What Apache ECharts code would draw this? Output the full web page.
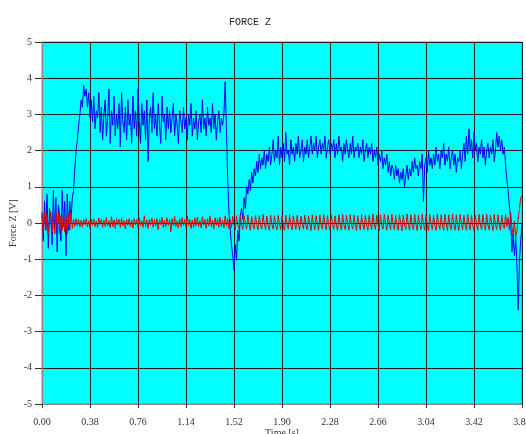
<!DOCTYPE html>
<html>
<head>
<meta charset="utf-8">
<script src="https://cdn.jsdelivr.net/npm/echarts@6/dist/echarts.min.js"></script>
<style>
  html, body { margin: 0; padding: 0; background: #fff; }
  #chart { width: 526px; height: 434px; }
</style>
</head>
<body>
<div id="chart"></div>
<script>
// sampling step of the recorded signals [s]
const dt = 0.01;

const xTicks = ['0.00', '0.38', '0.76', '1.14', '1.52', '1.90', '2.28', '2.66', '3.04', '3.42', '3.80'];

// blue trace, one row = 0.1 s
const forceBlue = [
  0.3, -0.5, 0.6, -0.2, 0.8, -0.7, 0.4, 0.1, -0.6, 0.9,
  -0.3, 0.7, -0.8, 0.5, 0.2, -0.5, 0.9, -0.1, 0.6, -0.9,
  0.8, -0.2, 0.6, 0.1, 0.7, 0.9, 1.5, 2.0, 2.3, 2.7,
  3.0, 3.4, 3.2, 3.8, 3.5, 3.7, 3.2, 3.6, 2.9, 3.4,
  2.8, 3.5, 2.6, 3.1, 2.9, 3.6, 2.5, 3.2, 2.3, 3.0,
  3.4, 2.4, 2.9, 3.7, 2.2, 3.1, 2.7, 3.5, 2.4, 3.0,
  2.6, 3.3, 2.1, 3.6, 2.8, 2.5, 3.2, 2.3, 3.4, 2.7,
  3.0, 2.2, 3.5, 2.6, 3.1, 2.4, 3.7, 2.8, 2.2, 3.3,
  2.7, 3.1, 2.3, 3.4, 1.7, 2.9, 3.2, 2.5, 3.6, 2.6,
  3.0, 2.4, 3.3, 2.7, 2.2, 3.5, 2.8, 3.0, 2.3, 3.2,
  2.6, 3.1, 2.5, 2.9, 3.3, 2.4, 3.0, 2.7, 2.2, 3.1,
  2.8, 2.5, 3.2, 2.6, 2.9, 2.3, 3.0, 2.7, 3.3, 2.4,
  2.9, 2.6, 3.1, 2.3, 2.8, 3.0, 2.5, 3.4, 2.6, 2.9,
  2.4, 3.2, 2.7, 2.9, 2.5, 3.3, 2.6, 3.0, 2.3, 2.8,
  3.1, 2.5, 2.9, 2.7, 3.0, 3.9, 2.6, 1.2, 0.3, -0.2,
  -0.6, -0.9, -1.3, -0.6, -1.0, -0.2, -0.5, 0.2, 0.4, 0.1,
  0.7, 0.4, 1.0, 0.8, 1.2, 0.9, 1.4, 1.1, 1.5, 1.3,
  1.7, 1.4, 1.9, 1.5, 1.8, 1.6, 2.0, 1.5, 1.9, 1.7,
  2.1, 1.6, 1.9, 2.3, 1.7, 2.0, 1.8, 2.4, 1.6, 2.1,
  1.8, 2.2, 1.7, 2.5, 1.9, 2.0, 1.6, 2.3, 1.9, 2.1,
  1.7, 2.2, 1.9, 2.4, 1.8, 2.0, 2.3, 1.7, 2.1, 1.9,
  2.3, 1.8, 2.1, 2.4, 1.9, 2.2, 2.0, 2.4, 1.8, 2.1,
  2.3, 1.9, 2.2, 2.0, 2.4, 1.8, 2.1, 2.3, 1.9, 2.2,
  2.0, 2.3, 1.8, 2.2, 1.9, 2.4, 2.0, 2.1, 1.7, 2.2,
  1.9, 2.3, 2.0, 1.8, 2.2, 1.9, 2.4, 1.8, 2.1, 2.0,
  2.2, 1.8, 2.1, 1.9, 2.3, 1.7, 2.0, 2.2, 1.8, 2.1,
  1.9, 2.2, 1.7, 2.0, 1.8, 2.1, 1.6, 1.9, 1.7, 2.0,
  1.5, 1.8, 1.6, 1.9, 1.4, 1.7, 1.3, 1.6, 1.5, 1.2,
  1.6, 1.3, 1.5, 1.1, 1.4, 1.2, 1.5, 1.0, 1.3, 1.6,
  1.2, 1.5, 1.3, 1.7, 1.4, 1.8, 1.5, 1.6, 1.3, 1.7,
  1.5, 1.9, 0.6, 1.6, 1.8, 1.4, 2.0, 1.6, 1.8, 1.5,
  1.9, 1.6, 2.1, 1.7, 1.9, 1.5, 2.0, 1.8, 2.2, 1.6,
  1.9, 1.7, 2.1, 1.5, 1.8, 2.0, 1.6, 1.9, 1.4, 1.8,
  1.7, 2.0, 1.5, 1.9, 2.2, 1.7, 2.4, 1.9, 2.6, 2.0,
  2.3, 1.8, 2.5, 2.0, 2.2, 1.7, 2.1, 1.9, 2.3, 1.8,
  2.1, 1.6, 2.0, 2.2, 1.8, 2.1, 1.9, 2.3, 1.7, 2.0,
  2.5, 2.1, 2.4, 2.0, 2.3, 1.9, 2.1, 1.6, 1.2, 0.9,
  0.5, 0.1, -0.8, -0.3, -0.9, -0.4, -1.2, -2.4, -1.0, -0.5,
  0.0
];

// red trace, one row = 0.1 s
const forceRed = [
  0.2, -0.3, 0.3, -0.2, 0.25, -0.3, 0.1, 0.3, -0.25, 0.2,
  -0.3, 0.3, -0.1, 0.25, -0.3, 0.2, -0.2, 0.3, -0.25, 0.15,
  -0.3, 0.25, -0.2, 0.3, -0.15, 0.1, -0.1, 0.12, -0.08, 0.1,
  -0.1, 0.08, -0.12, 0.1, -0.05, 0.12, -0.1, 0.06, -0.14, 0.1,
  -0.06, 0.12, -0.1, 0.05, -0.12, 0.14, -0.04, 0.1, -0.12, 0.08,
  -0.1, 0.15, -0.08, 0.06, -0.13, 0.18, -0.1, 0.08, -0.15, 0.12,
  -0.05, 0.1, -0.12, 0.14, -0.08, 0.06, -0.16, 0.1, -0.06, 0.12,
  -0.1, 0.08, -0.14, 0.12, -0.05, 0.1, -0.12, 0.15, -0.08, 0.06,
  -0.12, 0.2, -0.1, 0.08, -0.15, 0.1, -0.06, 0.14, -0.12, 0.1,
  -0.08, 0.12, -0.18, 0.1, -0.05, 0.16, -0.12, 0.08, -0.1, 0.14,
  -0.06, 0.1, -0.25, 0.12, -0.08, 0.18, -0.1, 0.06, -0.14, 0.12,
  -0.1, 0.15, -0.06, 0.1, -0.12, 0.2, -0.08, 0.1, -0.15, 0.08,
  -0.12, 0.14, -0.08, 0.16, -0.1, 0.06, -0.14, 0.18, -0.06, 0.1,
  -0.15, 0.12, -0.08, 0.2, -0.1, 0.08, -0.16, 0.14, -0.06, 0.12,
  -0.12, 0.16, -0.1, 0.08, -0.14, 0.2, -0.08, 0.12, -0.16, 0.1,
  -0.12, 0.18, -0.05, -0.18, 0.2, -0.04, -0.16, 0.22, -0.06, -0.18,
  0.2, -0.05, -0.17, 0.22, -0.03, -0.2, 0.18, -0.06, -0.16, 0.21,
  -0.04, -0.19, 0.2, -0.05, -0.17, 0.23, -0.02, -0.18, 0.19, -0.06,
  -0.2, 0.22, -0.04, -0.17, 0.2, -0.06, -0.19, 0.21, -0.03, -0.18,
  0.19, -0.05, -0.2, 0.22, -0.04, -0.17, 0.24, -0.06, -0.19, 0.2,
  -0.03, -0.18, 0.21, -0.05, -0.2, 0.19, -0.04, -0.17, 0.22, -0.06,
  -0.19, 0.2, -0.03, -0.21, 0.23, -0.05, -0.18, 0.2, -0.04, -0.2,
  0.22, -0.06, -0.17, 0.24, -0.03, -0.19, 0.21, -0.05, -0.2, 0.23,
  -0.04, -0.18, 0.2, -0.06, -0.21, 0.22, -0.03, -0.19, 0.24, -0.05,
  -0.18, 0.21, -0.04, -0.2, 0.23, -0.06, -0.17, 0.22, -0.03, -0.21,
  0.2, -0.05, -0.19, 0.24, -0.04, -0.18, 0.22, -0.06, -0.2, 0.21,
  -0.03, -0.19, 0.25, -0.05, -0.18, 0.22, -0.04, -0.21, 0.23, -0.06,
  -0.17, 0.24, -0.03, -0.2, 0.22, -0.05, -0.19, 0.25, -0.04, -0.18,
  0.21, -0.06, -0.2, 0.24, -0.03, -0.22, 0.22, -0.05, -0.18, 0.25,
  -0.04, -0.2, 0.23, -0.06, -0.19, 0.24, -0.03, -0.21, 0.22, -0.05,
  -0.18, 0.25, -0.04, -0.2, 0.23, -0.06, -0.22, 0.24, -0.03, -0.19,
  0.22, -0.05, -0.21, 0.25, -0.04, -0.18, 0.23, -0.06, -0.2, 0.24,
  -0.03, -0.22, 0.22, -0.05, -0.19, 0.25, -0.04, -0.2, 0.23, -0.06,
  -0.21, 0.24, -0.03, -0.18, 0.22, -0.05, -0.2, 0.25, -0.04, -0.19,
  0.23, -0.06, -0.21, 0.22, -0.03, -0.2, 0.24, -0.05, -0.18, 0.23,
  -0.04, -0.2, 0.25, -0.06, -0.19, 0.22, -0.03, -0.21, 0.24, -0.05,
  -0.18, 0.23, -0.04, -0.2, 0.22, -0.06, -0.15, 0.25, -0.1, 0.15,
  -0.2, 0.3, -0.1, -0.35, 0.05, -0.4, -0.2, 0.1, 0.4, 0.7,
  0.75
];

const toPairs = (arr) => arr.map((v, i) => [+(i * dt).toFixed(2), v]);

const chart = echarts.init(document.getElementById('chart'), null, { renderer: 'canvas' });

const labelFont = {
  fontFamily: 'Liberation Serif',
  fontSize: 10,
  color: '#333'
};

let option = {
  animation: false,
  backgroundColor: '#ffffff',
  title: {
    text: 'FORCE Z',
    left: 245,
    top: 12,
    textAlign: 'center',
    textStyle: {
      fontFamily: 'Liberation Mono',
      fontSize: 10,
      fontWeight: 'normal',
      color: '#222'
    }
  },
  grid: {
    left: 42,
    right: 4,
    top: 42,
    bottom: 30,
    containLabel: false,
    outerBoundsMode: 'none',
    show: true,
    backgroundColor: '#00ffff',
    borderColor: '#888',
    borderWidth: 1
  },
  xAxis: {
    type: 'value',
    min: 0,
    max: 3.8,
    interval: 0.38,
    name: 'Time [s]',
    nameLocation: 'middle',
    nameGap: 24,
    nameMoveOverlap: false,
    nameTextStyle: Object.assign({ verticalAlign: 'top' }, labelFont),
    axisLine: { onZero: false, lineStyle: { color: '#888' } },
    axisTick: { show: true, length: 4, lineStyle: { color: '#333' } },
    axisLabel: Object.assign({
      margin: 13,
      formatter: (v) => xTicks[Math.round(v / 0.38)] || v.toFixed(2)
    }, labelFont),
    splitLine: { show: true, lineStyle: { color: '#1a1a1a', width: 1 } }
  },
  yAxis: {
    type: 'value',
    min: -5,
    max: 5,
    interval: 1,
    name: 'Force Z [V]',
    nameLocation: 'middle',
    nameGap: 24,
    nameMoveOverlap: false,
    nameTextStyle: labelFont,
    axisLine: { show: true, onZero: false, lineStyle: { color: '#888' } },
    axisTick: { show: true, length: 7, lineStyle: { color: '#333' } },
    axisLabel: Object.assign({ margin: 10 }, labelFont),
    splitLine: { show: true, lineStyle: { color: '#1a1a1a', width: 1 } }
  },
  series: [
    {
      name: 'blue',
      type: 'line',
      data: toPairs(forceBlue),
      showSymbol: false,
      lineStyle: { color: '#0000f0', width: 1 },
      z: 2
    },
    {
      name: 'red',
      type: 'line',
      data: toPairs(forceRed),
      showSymbol: false,
      lineStyle: { color: '#ee0000', width: 1 },
      z: 3
    }
  ]
};

chart.setOption(option);
</script>
</body>
</html>
